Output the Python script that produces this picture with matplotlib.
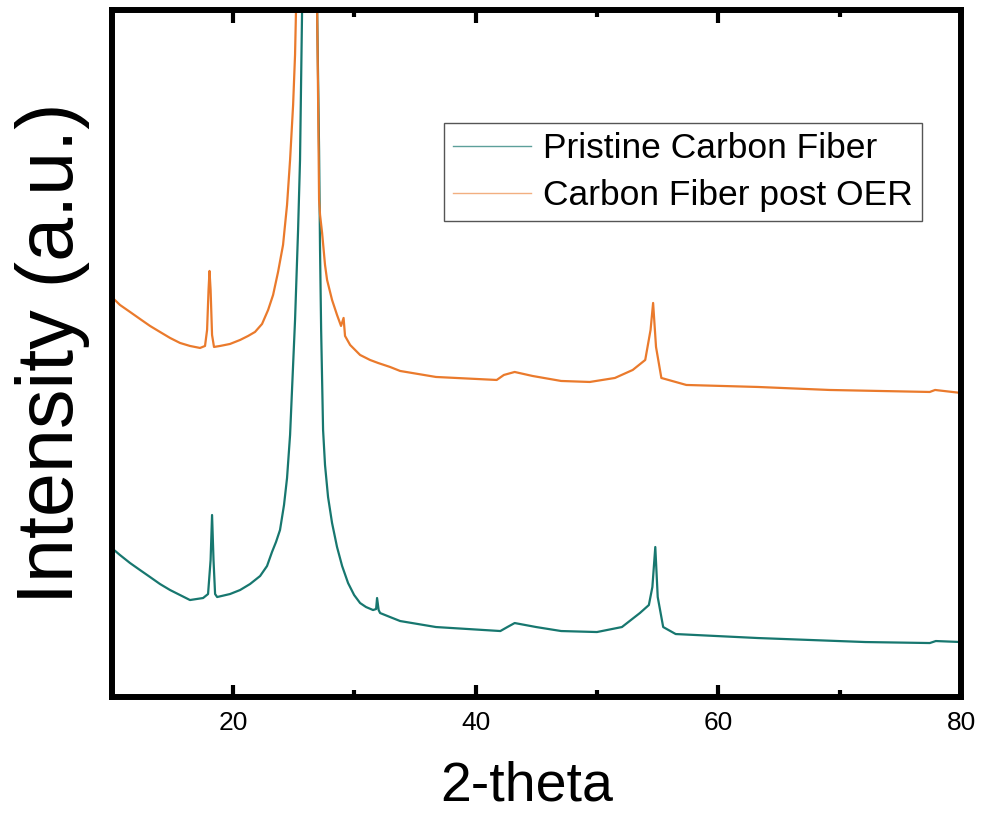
import matplotlib
matplotlib.use("Agg")
import matplotlib.pyplot as plt
from matplotlib.ticker import MultipleLocator

plt.rcParams['font.family'] = ['Liberation Sans', 'DejaVu Sans']

# values (2-theta in degrees, intensity in a.u.)
pristine_x = [10.00, 10.68, 11.51, 12.33, 13.16, 13.98, 14.81, 15.63, 16.45, 17.53,
              17.94, 18.15, 18.27, 18.39, 18.52, 18.69, 19.75, 20.58, 21.40, 22.23,
              22.80, 23.21, 23.54, 23.87, 24.20, 24.45, 24.70, 24.86, 25.11, 25.36,
              25.52, 25.69, 26.31, 26.93, 27.09, 27.17, 27.26, 27.42, 27.58, 27.83,
              28.16, 28.57, 28.99, 29.48, 29.98, 30.47, 30.96, 31.54, 31.79, 31.87,
              32.00, 32.12, 32.94, 33.77, 36.72, 42.03, 42.61, 43.21, 44.98, 47.04,
              49.99, 52.05, 53.53, 54.27, 54.56, 54.80, 55.00, 55.45, 56.48, 63.26,
              72.11, 77.42, 77.92, 80.00]
pristine_y = [149, 142, 134, 127, 120, 113, 107, 102, 97, 99,
              103, 137, 182, 137, 103, 100, 103, 107, 113, 121,
              131, 145, 155, 167, 192, 219, 262, 307, 377, 467,
              537, 687, 2600, 687, 547, 447, 367, 267, 232, 200,
              174, 150, 131, 114, 102, 94, 90, 87, 88, 99,
              87, 84, 80, 76, 70, 66, 70, 74, 70, 66,
              65, 70, 84, 92, 110, 150, 100, 70, 63, 59,
              55, 54, 56, 55]

post_oer_x = [10.00, 10.68, 11.51, 12.33, 13.16, 13.98, 14.81, 15.63, 16.45, 17.28,
              17.69, 17.86, 17.98, 18.06, 18.15, 18.27, 18.43, 18.93, 19.75, 20.58,
              21.24, 21.81, 22.39, 22.89, 23.30, 23.71, 24.12, 24.45, 24.70, 24.95,
              25.11, 25.19, 26.06, 26.93, 27.01, 27.09, 27.17, 27.34, 27.58, 27.75,
              28.16, 28.57, 28.90, 29.11, 29.23, 29.65, 30.06, 30.47, 31.29, 31.95,
              32.94, 33.77, 36.72, 41.73, 42.32, 43.21, 44.68, 47.04, 49.40, 51.47,
              52.94, 53.97, 54.41, 54.62, 54.86, 55.30, 57.36, 63.26, 69.16, 77.42,
              77.86, 80.00]
post_oer_y = [400, 392, 385, 378, 371, 365, 359, 354, 351, 349,
              351, 367, 407, 426, 407, 362, 350, 351, 353, 357,
              361, 365, 373, 387, 402, 425, 452, 492, 537, 592,
              642, 687, 1500, 687, 597, 497, 482, 464, 432, 417,
              397, 382, 371, 379, 361, 352, 347, 342, 337, 334,
              330, 326, 320, 317, 322, 325, 321, 316, 315, 319,
              327, 337, 367, 394, 350, 319, 312, 310, 307, 305,
              307, 304]

labels = ['Pristine Carbon Fiber', 'Carbon Fiber post OER']
teal = '#17776f'
orange = '#ea7a2c'

fig = plt.figure(figsize=(9.86, 8.22), dpi=100)
ax = fig.add_axes([0.1133, 0.152, 0.8614, 0.836])

ax.plot(pristine_x, pristine_y, color=teal, lw=1.6)
ax.plot(post_oer_x, post_oer_y, color=orange, lw=1.6)

ax.set_xlim(10, 80)
ax.set_ylim(0, 687)

ax.xaxis.set_major_locator(MultipleLocator(20))
ax.xaxis.set_minor_locator(MultipleLocator(10))
ax.set_yticks([])
ax.tick_params(axis='x', which='both', direction='in', top=True, width=3,
               labelsize=19, pad=10)
ax.tick_params(axis='x', which='major', length=9)
ax.tick_params(axis='x', which='minor', length=5)
for s in ax.spines.values():
    s.set_linewidth(4.3)

ax.set_xlabel('2-theta', fontsize=40)
ax.xaxis.set_label_coords(0.489, -0.092)
ax.set_ylabel('Intensity (a.u.)', fontsize=57)
ax.yaxis.set_label_coords(-0.025, 0.5)

# legend with thin handle lines
h1, = ax.plot([], [], color=teal, lw=1, alpha=0.7)
h2, = ax.plot([], [], color=orange, lw=1, alpha=0.6)
leg = ax.legend([h1, h2], labels, loc='upper right', fontsize=25.5,
                bbox_to_anchor=(0.935, 0.850), bbox_transform=fig.transFigure,
                fancybox=False, framealpha=1, edgecolor='#555555',
                handlelength=2.2, handletextpad=0.34, labelspacing=0.4,
                borderpad=0.25, borderaxespad=0)
leg.get_frame().set_linewidth(1)

fig.savefig('out.png', dpi=100)
